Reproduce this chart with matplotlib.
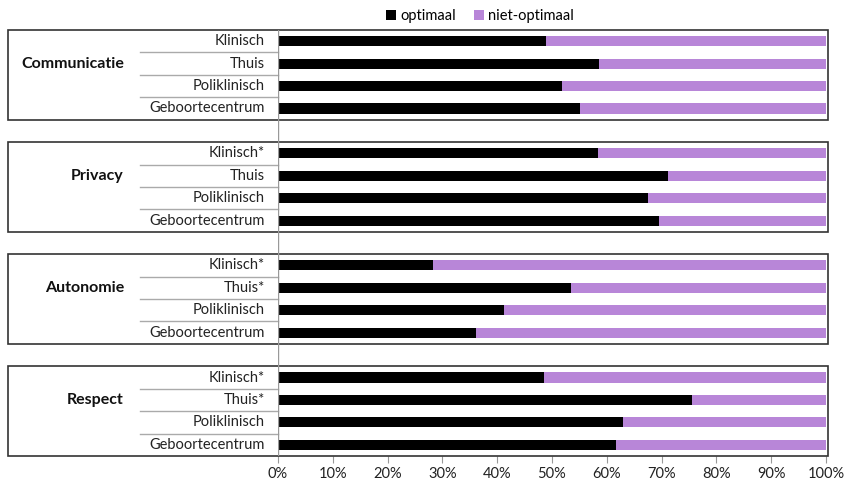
import numpy as np
import matplotlib.pyplot as plt
from matplotlib.patches import Rectangle
from matplotlib.transforms import blended_transform_factory

# data
groepen = ["Communicatie", "Privacy", "Autonomie", "Respect"]
sub_labels = [
    ["Klinisch", "Thuis", "Poliklinisch", "Geboortecentrum"],
    ["Klinisch*", "Thuis", "Poliklinisch", "Geboortecentrum"],
    ["Klinisch*", "Thuis*", "Poliklinisch", "Geboortecentrum"],
    ["Klinisch*", "Thuis*", "Poliklinisch", "Geboortecentrum"],
]
optimaal = [
    [48.9, 58.6, 51.8, 55.2],
    [58.4, 71.2, 67.6, 69.6],
    [28.3, 53.4, 41.2, 36.1],
    [48.5, 75.5, 62.9, 61.7],
]
ticks = np.arange(0, 101, 10)

zwart = "#000000"
paars = "#b886d8"

plt.rcParams['font.family'] = ['Lato', 'DejaVu Sans']

fig = plt.figure(figsize=(8.45, 4.83), dpi=100)
W, H = 845, 483
x0, x1 = 278, 826
y_top, y_bot = 30, 456
ax = fig.add_axes([x0 / W, 1 - y_bot / H, (x1 - x0) / W, (y_bot - y_top) / H])

n_slots = 4 * 4 + 3
ax.set_xlim(0, 100)
ax.set_ylim(n_slots, 0)

trans = blended_transform_factory(ax.transAxes, ax.transData)

def fx(px):
    # pixel x -> axes fraction
    return (px - x0) / (x1 - x0)

for g, naam in enumerate(groepen):
    start = g * 5
    for i in range(4):
        y = start + i + 0.5
        v = optimaal[g][i]
        ax.barh(y, v, height=0.45, color=zwart, label="optimaal" if (g == 0 and i == 0) else None)
        ax.barh(y, 100 - v, left=v, height=0.45, color=paars,
                label="niet-optimaal" if (g == 0 and i == 0) else None)
        ax.text(fx(265), y, sub_labels[g][i], transform=trans, ha="right", va="center",
                fontsize=10.5, color="#222222")
        if i > 0:
            ax.plot([fx(140), 0], [start + i, start + i], transform=trans, color="#aaaaaa",
                    lw=1, clip_on=False)
    # box
    ax.add_patch(Rectangle((fx(8), start), fx(828) - fx(8), 4, transform=trans, fill=False,
                           edgecolor="#333333", lw=1.2, clip_on=False, zorder=3))
    ax.text(fx(124), start + 1.5, naam, transform=trans, ha="right", va="center",
            fontsize=11.5, fontweight="bold", color="#111111")

# vertical axis line
ax.axvline(0, color="#999999", lw=1, zorder=4)

for s in ["top", "right", "left", "bottom"]:
    ax.spines[s].set_visible(False)
ax.set_yticks([])
ax.set_xticks(ticks)
ax.set_xticklabels([f"{t}%" for t in ticks], fontsize=10.5, color="#222222")
ax.tick_params(axis="x", length=5, color="#999999", pad=3)

ax.legend(loc="lower center", bbox_to_anchor=(fx(480), 1.0), ncol=2, frameon=False,
          fontsize=10.5, handlelength=0.7, handleheight=0.7, handletextpad=0.3,
          columnspacing=1.2, borderaxespad=0.05)

fig.savefig("out.png", dpi=100)
